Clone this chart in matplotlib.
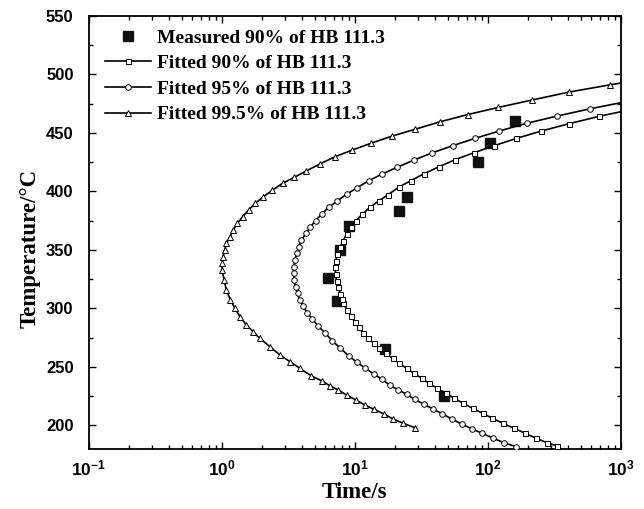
import matplotlib
matplotlib.use("Agg")
import matplotlib.pyplot as plt
from matplotlib.ticker import LogLocator, NullFormatter, MultipleLocator

plt.rcParams['font.family'] = ['Liberation Serif', 'DejaVu Serif']
plt.rcParams['font.weight'] = 'bold'
plt.rcParams['mathtext.fontset'] = 'custom'
plt.rcParams['mathtext.rm'] = 'Liberation Sans:bold'
plt.rcParams['mathtext.bf'] = 'Liberation Sans:bold'
plt.rcParams['mathtext.it'] = 'Liberation Sans:bold'

# measured points, 90% of HB 111.3
meas_t = [160, 104, 84.5, 24.5, 21.5, 9.1, 7.8, 6.3, 7.4, 16.8, 46.7]
meas_T = [460, 441, 425, 395, 383, 370, 350, 326, 306, 265, 225]

# fitted 90%
fit90_t = [332, 279, 230, 191, 157, 130, 108, 91.2, 76.7, 65.2, 55.8, 48.1, 41.6, 36.2,
           31.8, 27.8, 24.5, 21.5, 19.2, 17.1, 15.2, 13.9, 12.6, 11.5, 10.7, 10.0, 9.33,
           8.75, 8.17, 7.95, 7.80, 7.49, 7.28, 7.16, 7.11, 7.19, 7.36, 7.71, 8.17, 8.66,
           9.29, 10.2, 11.4, 13.0, 15.1, 17.8, 21.3, 26.3, 33.0, 43.0, 57.0, 78.5, 111,
           164, 253, 406, 684, 1000]
fit90_T = [182.3, 185.1, 188.9, 193.2, 197.4, 201.7, 206.0, 210.3, 214.5, 218.8, 223.1,
           227.4, 231.6, 235.9, 240.2, 244.4, 248.7, 253.0, 257.3, 261.5, 265.8, 270.1,
           274.3, 279.1, 283.7, 288.5, 293.4, 298.5, 304.3, 308.2, 312.2, 317.9, 323.6,
           329.3, 335.0, 340.7, 346.4, 352.1, 357.7, 363.5, 369.2, 374.8, 380.6, 386.3,
           391.7, 397.1, 403.4, 409.0, 414.9, 421.0, 427.1, 432.9, 438.9, 445.2, 451.5,
           457.7, 464.0, 468.0]

# fitted 95%
fit95_t = [163, 132, 110, 90.2, 75.4, 63.4, 53.6, 45.6, 38.8, 33.0, 28.2, 24.5, 21.2,
           18.3, 16.0, 13.9, 12.0, 10.4, 9.01, 7.80, 6.75, 5.95, 5.30, 4.80, 4.38, 4.10,
           3.86, 3.71, 3.58, 3.50, 3.46, 3.48, 3.54, 3.65, 3.78, 3.97, 4.29, 4.59, 5.07,
           5.62, 6.38, 7.36, 8.66, 10.4, 12.7, 16.0, 20.8, 27.8, 38.3, 54.3, 79.8, 122,
           196, 332, 587, 1000]
fit95_T = [181.7, 185.1, 188.9, 193.2, 197.1, 201.1, 205.4, 209.7, 213.9, 218.0, 222.2,
           226.5, 230.2, 234.4, 239.3, 243.8, 248.7, 253.8, 259.2, 265.8, 272.3, 279.1,
           284.9, 290.6, 296.2, 301.6, 307.1, 312.8, 318.4, 324.2, 329.9, 335.5, 341.3,
           347.0, 352.6, 358.3, 364.1, 369.2, 374.8, 380.6, 386.3, 391.7, 397.4, 403.0,
           409.0, 414.7, 420.5, 426.7, 432.9, 438.9, 445.2, 451.5, 458.1, 464.3, 470.5,
           475.7]

# fitted 99.5%
fit995_t = [28.2, 23.1, 19.4, 16.5, 13.9, 11.9, 10.2, 8.66, 7.49, 6.49, 5.62, 4.72, 3.86,
            3.25, 2.73, 2.30, 1.93, 1.72, 1.53, 1.37, 1.25, 1.16, 1.08, 1.04, 1.00, 1.01,
            1.02, 1.05, 1.08, 1.15, 1.22, 1.31, 1.43, 1.59, 1.78, 2.05, 2.39, 2.86, 3.50,
            4.29, 5.46, 7.08, 9.55, 13.2, 19.1, 28.2, 43.8, 70.8, 120, 215, 408, 832, 1000]
fit995_T = [198.0, 201.7, 205.4, 209.7, 213.7, 217.3, 221.6, 225.9, 230.2, 233.8, 238.1,
            242.1, 248.7, 254.4, 260.1, 267.2, 274.3, 280.0, 285.7, 292.8, 300.2, 307.1,
            315.6, 324.2, 332.7, 338.4, 344.1, 349.8, 355.5, 361.2, 366.9, 372.6, 378.2,
            384.0, 389.7, 395.3, 400.8, 406.8, 411.9, 417.3, 423.3, 429.5, 435.2, 441.0,
            447.2, 452.9, 459.4, 465.6, 471.7, 478.0, 484.8, 491.0, 492.5]

fig = plt.figure(figsize=(6.44, 5.09), dpi=100)
ax = fig.add_axes([0.138, 0.1185, 0.826, 0.8505])

ax.plot(meas_t, meas_T, 's', color='#111111', markersize=6.5, linestyle='none',
        label='Measured 90% of HB 111.3', zorder=2)
ax.plot(fit90_t, fit90_T, '-s', color='black', lw=1.2, markersize=3.6, mfc='white',
        mew=0.7, markevery=slice(0, -1), label='Fitted 90% of HB 111.3', zorder=3)
ax.plot(fit95_t, fit95_T, '-o', color='black', lw=1.2, markersize=4.0, mfc='white',
        mew=0.7, markevery=slice(0, -1), label='Fitted 95% of HB 111.3', zorder=3)
ax.plot(fit995_t, fit995_T, '-^', color='black', lw=1.2, markersize=4.4, mfc='white',
        mew=0.7, markevery=slice(0, -1), label='Fitted 99.5% of HB 111.3', zorder=3)

ax.set_xscale('log')
ax.set_xlim(0.1, 1000)
ax.set_ylim(180, 550)

ax.set_xticks([0.1, 1, 10, 100, 1000])
ax.set_xticklabels([r'$\mathbf{10^{-1}}$', r'$\mathbf{10^{0}}$', r'$\mathbf{10^{1}}$',
                    r'$\mathbf{10^{2}}$', r'$\mathbf{10^{3}}$'])
ax.xaxis.set_minor_locator(LogLocator(base=10, subs=range(2, 10)))
ax.xaxis.set_minor_formatter(NullFormatter())
ax.set_yticks(range(200, 551, 50))
ax.yaxis.set_minor_locator(MultipleLocator(25))
for lab in ax.get_yticklabels():
    lab.set_family('Liberation Sans')
    lab.set_weight('bold')

ax.tick_params(which='both', direction='in', top=True, right=True, width=1.0)
ax.tick_params(which='major', length=5)
ax.tick_params(which='minor', length=3)
ax.tick_params(axis='x', which='major', labelsize=12.5, pad=8)
ax.tick_params(axis='y', which='major', labelsize=12, pad=11)
for sp in ax.spines.values():
    sp.set_linewidth(1.3)

ax.set_xlabel('Time/s', fontsize=16.5, fontweight='bold', labelpad=2)
ax.set_ylabel('Temperature/°C', fontsize=16.5, fontweight='bold', labelpad=4, y=0.4635)

ax.legend(loc='upper left', bbox_to_anchor=(0.030, 0.9695), frameon=False,
          borderaxespad=0, borderpad=0, handlelength=2.4, handletextpad=0.3,
          labelspacing=0.41, numpoints=1, prop={'size': 14, 'weight': 'bold'})

fig.savefig('out.png', dpi=100)
